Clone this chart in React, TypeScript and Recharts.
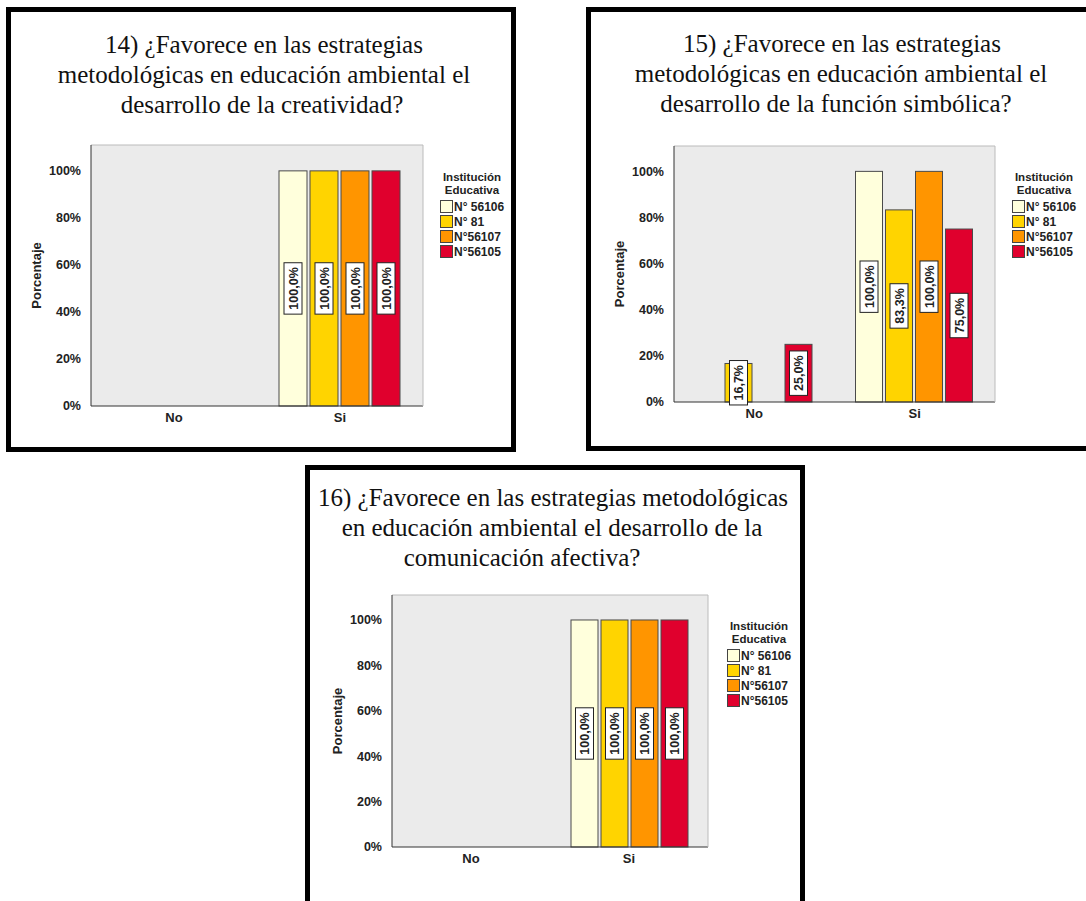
import React from 'react';
import { BarChart, Bar, XAxis, YAxis, CartesianGrid, LabelList } from 'recharts';

// Categories, series and values
const categories = ['No', 'Si'];
const seriesNames = ['N° 56106', 'N° 81', 'N°56107', 'N°56105'];
const seriesColors = ['#FFFFDC', '#FFD400', '#FF9500', '#E0002D'];
const yTicks = [0, 20, 40, 60, 80, 100];

const q14No = [0, 0, 0, 0];
const q14Si = [100, 100, 100, 100];
const q15No = [0, 16.7, 0, 25];
const q15Si = [100, 83.3, 100, 75];
const q16No = [0, 0, 0, 0];
const q16Si = [100, 100, 100, 100];

const title14 = [
  '14) ¿Favorece en las estrategias',
  'metodológicas en educación ambiental el',
  'desarrollo de la creatividad?',
];
const title15 = [
  '15) ¿Favorece en las estrategias',
  'metodológicas en educación ambiental el',
  'desarrollo de la función simbólica?',
];
const title16 = [
  '16) ¿Favorece en las estrategias metodológicas',
  'en educación ambiental el desarrollo de la',
  'comunicación afectiva?',
];

const buildRows = (no: number[], si: number[]) =>
  categories.map((cat, i) => {
    const vals = i === 0 ? no : si;
    const row: any = { cat };
    seriesNames.forEach((_, k) => (row['s' + k] = vals[k]));
    return row;
  });

const SANS = '"Liberation Sans", Arial, sans-serif';
const SERIF = '"Liberation Serif", "Times New Roman", serif';
const Y_MAX = 111;
const LABEL_SIZE = 12.5;

const fmt = (v: number) => v.toFixed(1).replace('.', ',') + '%';
const textLen = (s: string, size: number) =>
  s.split('').reduce((a, c) => a + (c === ',' ? 0.278 : c === '%' ? 0.889 : 0.556), 0) * size;

const BarShape = (props: any) => {
  const { x, y, width, height, fill } = props;
  if (!height || height <= 0.5) return null;
  return <rect x={x} y={y} width={width} height={height} fill={fill} stroke="#4a4a4a" strokeWidth={1} />;
};

const ValueLabel = (props: any) => {
  const { x, y, width, height, value } = props;
  if (!value) return null;
  const cx = x + width / 2;
  const cy = y + height / 2;
  const s = fmt(Number(value));
  const w = textLen(s, LABEL_SIZE) + 9;
  return (
    <g transform={`translate(${cx},${cy}) rotate(-90)`}>
      <rect x={-w / 2} y={-9} width={w} height={18} fill="#fff" stroke="#222" strokeWidth={1} />
      <text x={0} y={0} dy="0.36em" textAnchor="middle" fontFamily={SANS} fontWeight="bold" fontSize={LABEL_SIZE} fill="#222">
        {s}
      </text>
    </g>
  );
};

const YLabel = (props: any) => {
  const { viewBox } = props;
  const x = viewBox.x + 7;
  const y = viewBox.y + viewBox.height / 2;
  return (
    <text x={x} y={y} transform={`rotate(-90, ${x}, ${y})`} textAnchor="middle" dy="0.35em"
      fontFamily={SANS} fontWeight="bold" fontSize={13} fill="#222">
      Porcentaje
    </text>
  );
};

type Cfg = {
  border: { left: number; top: number; width: number; height: number };
  title: string[];
  titleX: number[];
  titleTop: number;
  plot: { left: number; top: number; right: number; bottom: number };
  legend: { left: number; top: number };
  rows: any[];
  catGap: number;
};

const panels: Cfg[] = [
  {
    border: { left: 6, top: 7, width: 510, height: 445 },
    title: title14,
    titleX: [264, 264, 262],
    titleTop: 30,
    plot: { left: 91, top: 145, right: 423, bottom: 406 },
    legend: { left: 440, top: 171 },
    rows: buildRows(q14No, q14Si),
    catGap: 22,
  },
  {
    border: { left: 586, top: 7, width: 540, height: 444 },
    title: title15,
    titleX: [842, 841, 836],
    titleTop: 29,
    plot: { left: 674, top: 146, right: 995, bottom: 402 },
    legend: { left: 1012, top: 171 },
    rows: buildRows(q15No, q15Si),
    catGap: 21,
  },
  {
    border: { left: 305, top: 465, width: 500, height: 480 },
    title: title16,
    titleX: [553, 552, 522],
    titleTop: 483,
    plot: { left: 392, top: 595, right: 708, bottom: 847 },
    legend: { left: 727, top: 620 },
    rows: buildRows(q16No, q16Si),
    catGap: 21,
  },
];

const Legend = ({ left, top }: { left: number; top: number }) => (
  <div style={{ position: 'absolute', left, top, width: 66, fontFamily: SANS, fontWeight: 'bold', fontSize: 11.5, color: '#222' }}>
    <div style={{ textAlign: 'center', lineHeight: '12.5px', width: 64 }}>
      Institución
      <br />
      Educativa
    </div>
    <div style={{ marginTop: 3 }}>
      {seriesNames.map((n, i) => (
        <div key={n} style={{ display: 'flex', alignItems: 'center', height: 15, whiteSpace: 'nowrap' }}>
          <span style={{ display: 'inline-block', width: 11, height: 11, background: seriesColors[i], border: '1px solid #444', marginRight: 1 }} />
          <span style={{ fontSize: 12 }}>{n}</span>
        </div>
      ))}
    </div>
  </div>
);

const Panel = ({ cfg }: { cfg: Cfg }) => {
  const { plot } = cfg;
  const plotW = plot.right - plot.left;
  const plotH = plot.bottom - plot.top;
  const yAxisW = 62;
  const width = yAxisW + plotW + 1 + 5;
  const height = 5 + 1 + plotH + 30;
  return (
    <>
      <div
        style={{
          position: 'absolute',
          left: cfg.border.left,
          top: cfg.border.top,
          width: cfg.border.width,
          height: cfg.border.height,
          border: '5px solid #000',
          boxSizing: 'border-box',
        }}
      />
      {cfg.title.map((line, i) => (
        <div
          key={i}
          style={{
            position: 'absolute',
            left: cfg.titleX[i] - 300,
            top: cfg.titleTop + i * 30,
            width: 600,
            textAlign: 'center',
            fontFamily: SERIF,
            fontSize: 25,
            lineHeight: '30px',
            color: '#111',
            whiteSpace: 'nowrap',
          }}
        >
          {line}
        </div>
      ))}
      <div style={{ position: 'absolute', left: plot.left - yAxisW, top: plot.top - 6 }}>
        <BarChart
          width={width}
          height={height}
          data={cfg.rows}
          margin={{ top: 5, right: 5, bottom: 0, left: 0 }}
          barGap={3}
          barCategoryGap={cfg.catGap}
        >
          <CartesianGrid horizontal={false} vertical={false} fill="#EBEBEB" />
          <XAxis
            dataKey="cat"
            height={30}
            tickLine={false}
            tickSize={6}
            tickMargin={1}
            axisLine={{ stroke: '#333' }}
            tick={{ fontFamily: SANS, fontWeight: 'bold', fontSize: 13, fill: '#222' }}
          />
          <XAxis xAxisId="top" orientation="top" dataKey="cat" height={1} tick={false} tickLine={false} axisLine={{ stroke: '#BBBBBB' }} />
          <YAxis
            width={yAxisW}
            domain={[0, Y_MAX]}
            ticks={yTicks}
            tickFormatter={(v) => `${v}%`}
            tickLine={false}
            tickSize={6}
            tickMargin={4}
            axisLine={{ stroke: '#333' }}
            tick={{ fontFamily: SANS, fontWeight: 'bold', fontSize: 12.5, fill: '#222' }}
            label={<YLabel />}
          />
          <YAxis yAxisId="right" orientation="right" width={1} domain={[0, Y_MAX]} tick={false} tickLine={false} axisLine={{ stroke: '#BBBBBB' }} />
          {seriesNames.map((name, i) => (
            <Bar
              key={name}
              dataKey={'s' + i}
              name={name}
              fill={seriesColors[i]}
              shape={<BarShape />}
              isAnimationActive={false}
            >
              <LabelList dataKey={'s' + i} content={<ValueLabel />} />
            </Bar>
          ))}
        </BarChart>
      </div>
      <Legend left={cfg.legend.left} top={cfg.legend.top} />
    </>
  );
};

export default function App() {
  return (
    <div style={{ position: 'absolute', left: 0, top: 0, width: 1086, height: 901, background: '#fff', overflow: 'hidden' }}>
      {panels.map((p, i) => (
        <Panel key={i} cfg={p} />
      ))}
    </div>
  );
}
